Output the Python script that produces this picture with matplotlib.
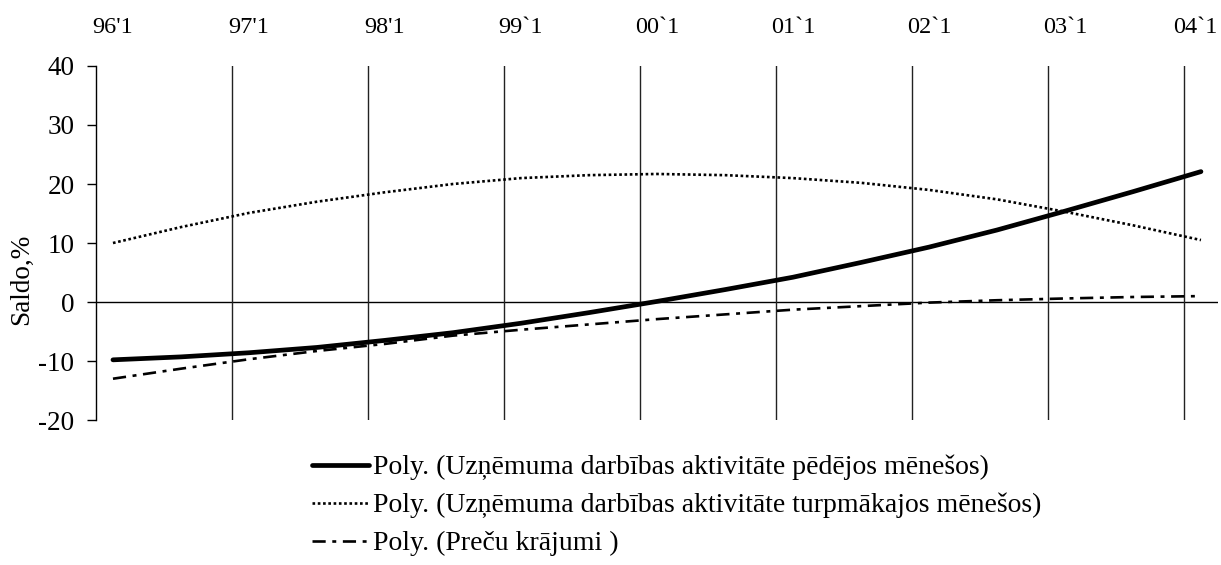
import numpy as np
import matplotlib
matplotlib.use("Agg")
import matplotlib.pyplot as plt
import matplotlib.transforms as mtransforms

plt.rcParams['font.family'] = ['Liberation Serif', 'DejaVu Serif']
plt.rcParams['axes.unicode_minus'] = False

# top axis labels, one every 4 quarters
year_labels = ["96'1", "97'1", "98'1", "99`1", "00`1", "01`1", "02`1", "03`1", "04`1"]
n_quarters = 33  # 96 Q1 .. 04 Q1

# values read at every half year (quarter index 0, 2, 4, ... 32)
idx = [0, 2, 4, 6, 8, 10, 12, 14, 16, 18, 20, 22, 24, 26, 28, 30, 32]
pedejos = [-9.8, -9.3, -8.6, -7.7, -6.5, -5.2, -3.6, -1.8, 0.1, 2.1, 4.2, 6.7, 9.3, 12.2, 15.4, 18.7, 22.1]
turpmakajos = [10.0, 12.7, 15.1, 17.0, 18.6, 20.0, 21.0, 21.5, 21.7, 21.5, 21.0, 20.2, 19.0, 17.4, 15.3, 13.0, 10.5]
krajumi = [-13.0, -11.3, -9.7, -8.3, -7.1, -5.7, -4.7, -3.8, -2.9, -2.1, -1.3, -0.7, -0.1, 0.3, 0.6, 0.85, 1.0]

labels = ["Poly. (Uzņēmuma darbības aktivitāte pēdējos mēnešos)",
          "Poly. (Uzņēmuma darbības aktivitāte turpmākajos mēnešos)",
          "Poly. (Preču krājumi )"]

fig = plt.figure(figsize=(12.21, 5.65), dpi=100)
ax = fig.add_axes([0.0786, 0.2566, 0.9189, 0.6266])

l1, = ax.plot(idx, pedejos, color='black', lw=3.4, solid_capstyle='round')
l2, = ax.plot(idx, turpmakajos, color='black', lw=1.9, linestyle=(0, (1.0, 1.0)))
l3, = ax.plot(idx, krajumi, color='black', lw=1.9, linestyle=(0, (5, 2.5, 1.5, 2.5)))

ax.axhline(0, color='black', lw=1.0, zorder=1)

ax.set_xlim(-0.5, n_quarters - 0.5)
ax.set_ylim(-20, 40)
ax.set_yticks([-20, -10, 0, 10, 20, 30, 40])
ax.tick_params(axis='y', labelsize=19.5, direction='out', length=6.5, width=1, pad=9)

ax.xaxis.tick_top()
ax.set_xticks(np.arange(0, n_quarters, 4))
ax.set_xticklabels(year_labels)
ax.set_xticks(np.arange(3.5, n_quarters - 1, 4), minor=True)
ax.tick_params(axis='x', which='both', length=0, labelsize=17.5, pad=20)
ax.grid(True, which='minor', axis='x', color='#222222', lw=1.0)

# last label sits against the right edge, nudge it in a little
last = ax.get_xticklabels()[-1]
last.set_transform(last.get_transform() + mtransforms.ScaledTranslation(-4 / 72, 0, fig.dpi_scale_trans))

for s in ['top', 'right', 'bottom']:
    ax.spines[s].set_visible(False)
ax.spines['left'].set_linewidth(1.0)

ax.set_ylabel("Saldo,%", fontsize=19.5)
ax.yaxis.set_label_coords(-0.055, 0.398)

fig.legend([l1, l2, l3], labels, loc='upper left', bbox_to_anchor=(0.2555, 0.195),
           frameon=False, fontsize=20, handlelength=2.05, handletextpad=0.15,
           labelspacing=0.45, borderaxespad=0, borderpad=0)

fig.savefig("out.png", dpi=100)
